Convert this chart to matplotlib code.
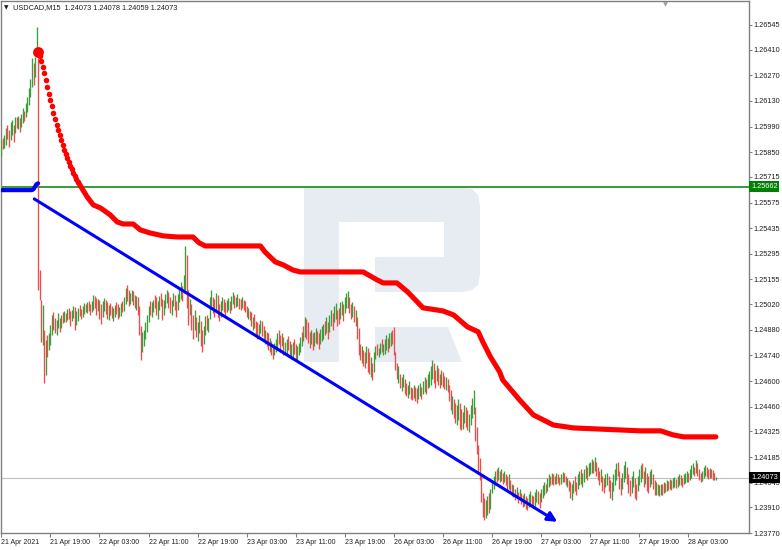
import numpy as np
import matplotlib
matplotlib.use('Agg')
import matplotlib.pyplot as plt
from matplotlib.patches import Polygon
from matplotlib import transforms

plt.rcParams['font.family'] = ['Liberation Sans', 'DejaVu Sans']

# ---- data (prices in points above 1.20000, i.e. 5662 -> 1.25662) ----
symbol_header = "USDCAD,M15  1.24073 1.24078 1.24059 1.24073"

bar_high = [
    5915, 5925, 5945, 5985, 6000, 5970, 6015, 6025, 6000, 6045,
    6040, 6050, 6035, 6060, 6090, 6075, 6120, 6150, 6200, 6250,
    6365, 6340, 6370, 6535, 6365, 5207, 5043, 5015, 4879, 4824,
    4851, 4862, 4906, 4961, 4977, 4944, 4933, 4972, 4944, 4961,
    4975, 4985, 4970, 4995, 5000, 4985, 4990, 5010, 5005, 4985,
    5000, 5015, 4995, 5010, 5025, 5020, 5030, 5035, 5020, 5040,
    5070, 5065, 5055, 5050, 5045, 5020, 5040, 5055, 5045, 5030,
    5015, 5025, 5010, 5000, 5015, 5030, 5020, 5005, 5025, 5040,
    5060, 5110, 5125, 5095, 5080, 5100, 5090, 5070, 5065, 5060,
    5010, 4900, 4870, 4880, 4920, 4960, 5010, 5040, 5030, 5045,
    5070, 5060, 5040, 5065, 5080, 5050, 5045, 5075, 5095, 5085,
    5060, 5045, 5080, 5070, 5040, 5075, 5110, 5140, 5120, 5180,
    5340, 5290, 5100, 5050, 5020, 4960, 4990, 4950, 4920, 4960,
    4930, 4880, 4900, 4955, 4960, 4945, 5060, 5100, 5060, 5050,
    5080, 5070, 5020, 5040, 5060, 5050, 5030, 5045, 5055, 5040,
    5065, 5085, 5070, 5060, 5075, 5055, 5050, 5060, 5045, 5035,
    5010, 5000, 4985, 4975, 4950, 4965, 4930, 4920, 4910, 4935,
    4930, 4900, 4880, 4870, 4860, 4835, 4820, 4800, 4810, 4830,
    4860, 4880, 4850, 4865, 4840, 4815, 4830, 4845, 4820, 4800,
    4815, 4830, 4800, 4790, 4810, 4840, 4870, 4900, 4950, 4940,
    4920, 4870, 4880, 4860, 4870, 4890, 4875, 4860, 4885, 4900,
    4910, 4930, 4950, 4920, 4960, 4990, 4970, 5010, 5025, 4990,
    5000, 5030, 5040, 5020, 5060, 5080, 5090, 5060, 5020, 5030,
    5010, 4990, 4950, 4890, 4800, 4790, 4770, 4760, 4790, 4780,
    4760, 4730, 4700, 4760, 4790, 4800, 4780, 4810, 4830, 4800,
    4830, 4850, 4835, 4860, 4870, 4880, 4895, 4760, 4700, 4680,
    4640, 4620, 4640, 4610, 4590, 4580, 4600, 4570, 4560, 4580,
    4570, 4560, 4580, 4590, 4570, 4600, 4620, 4610, 4640, 4655,
    4680, 4715, 4700, 4660, 4690, 4670, 4640, 4660, 4650, 4630,
    4620, 4610, 4580, 4550, 4520, 4500, 4480, 4470, 4500, 4480,
    4450, 4430, 4470, 4460, 4440, 4420, 4470, 4510, 4550, 4460,
    4350, 4250, 4180, 4080, 3990, 3960, 3950, 3970, 3990, 4010,
    4060, 4080, 4110, 4120, 4130, 4110, 4120, 4100, 4110, 4090,
    4080, 4090, 4060, 4040, 4030, 4010, 4020, 3995, 4010, 3990,
    3980, 3990, 3970, 3960, 3985, 4000, 3980, 3970, 3995, 4010,
    4000, 3990, 4010, 4030, 4050, 4040, 4070, 4090, 4080, 4100,
    4090, 4080, 4100, 4095, 4075, 4090, 4105, 4100, 4080, 4070,
    4060, 4050, 4040, 4060, 4080, 4050, 4090, 4110, 4120, 4100,
    4120, 4140, 4130, 4150, 4160, 4175, 4165, 4185, 4160, 4130,
    4110, 4120, 4080, 4070, 4090, 4100, 4080, 4060, 4050, 4090,
    4120, 4150, 4160, 4110, 4070, 4100, 4140, 4165, 4130, 4090,
    4060, 4080, 4110, 4070, 4040, 4080, 4120, 4140, 4150, 4110,
    4130, 4100, 4080, 4110, 4120, 4090, 4060, 4050, 4040, 4030,
    4040, 4035, 4050, 4045, 4060, 4055, 4065, 4060, 4070, 4075,
    4065, 4080, 4090, 4085, 4070, 4090, 4100, 4110, 4100, 4120,
    4140, 4150, 4130, 4170, 4150, 4120, 4100, 4110, 4130, 4140,
    4130, 4120, 4125, 4120, 4115, 4100, 4078,
]
bar_low = [
    5830, 5865, 5875, 5890, 5920, 5880, 5915, 5945, 5905, 5955,
    5985, 5975, 5960, 5990, 6010, 6020, 6040, 6070, 6110, 6150,
    6205, 6215, 6260, 6390, 5097, 5043, 4815, 4797, 4590, 4633,
    4731, 4770, 4797, 4851, 4879, 4862, 4851, 4890, 4868, 4890,
    4915, 4925, 4920, 4935, 4940, 4900, 4930, 4945, 4880, 4905,
    4930, 4955, 4940, 4950, 4965, 4975, 4970, 4985, 4960, 4975,
    4990, 5000, 4960, 4980, 4940, 4910, 4950, 4980, 4965, 4940,
    4935, 4960, 4945, 4930, 4950, 4965, 4940, 4950, 4955, 4975,
    4985, 5020, 5040, 5010, 5020, 5035, 5015, 5000, 4990, 4960,
    4850, 4715, 4760, 4790, 4830, 4870, 4920, 4960, 4950, 4975,
    5000, 4960, 4940, 4990, 5010, 4935, 4960, 5000, 5025, 5000,
    4970, 4960, 5010, 4990, 4950, 4990, 5030, 5050, 5040, 5080,
    5100, 5000, 4905, 4960, 4880, 4830, 4880, 4840, 4820, 4860,
    4790, 4760, 4800, 4850, 4880, 4870, 4940, 5010, 4970, 4950,
    4980, 4950, 4930, 4950, 4990, 4975, 4960, 4975, 4990, 4970,
    4990, 5020, 5000, 5005, 5010, 4995, 4990, 5000, 4990, 4975,
    4950, 4940, 4935, 4900, 4880, 4890, 4850, 4830, 4840, 4860,
    4845, 4820, 4800, 4790, 4770, 4760, 4740, 4720, 4740, 4760,
    4770, 4800, 4760, 4790, 4745, 4740, 4750, 4770, 4730, 4720,
    4730, 4750, 4710, 4705, 4740, 4760, 4790, 4820, 4840, 4830,
    4810, 4780, 4800, 4770, 4790, 4810, 4800, 4775, 4800, 4820,
    4830, 4850, 4860, 4830, 4870, 4900, 4880, 4920, 4940, 4900,
    4910, 4940, 4960, 4930, 4970, 5000, 5000, 4970, 4940, 4950,
    4920, 4900, 4830, 4740, 4715, 4700, 4680, 4670, 4700, 4650,
    4640, 4620, 4605, 4650, 4720, 4740, 4730, 4750, 4760, 4740,
    4750, 4770, 4760, 4780, 4790, 4800, 4740, 4660, 4610, 4590,
    4560, 4545, 4570, 4530, 4520, 4510, 4530, 4500, 4495, 4510,
    4490, 4480, 4500, 4520, 4500, 4530, 4540, 4530, 4560, 4570,
    4580, 4610, 4590, 4560, 4600, 4580, 4560, 4580, 4570, 4555,
    4550, 4540, 4490, 4440, 4420, 4400, 4370, 4360, 4390, 4340,
    4330, 4340, 4370, 4350, 4330, 4320, 4360, 4400, 4420, 4270,
    4200, 4100, 4060, 3940, 3860, 3840, 3850, 3870, 3880, 3900,
    3990, 4010, 4030, 4050, 4060, 4050, 4055, 4040, 4050, 4030,
    4000, 4010, 3990, 3970, 3965, 3950, 3960, 3935, 3950, 3930,
    3910, 3920, 3900, 3895, 3910, 3930, 3920, 3905, 3920, 3940,
    3930, 3905, 3940, 3960, 3980, 3990, 4000, 4020, 4030, 4040,
    4030, 4035, 4040, 4045, 4030, 4040, 4050, 4050, 4030, 4020,
    4000, 3960, 3950, 3990, 4000, 3980, 4010, 4030, 4040, 4020,
    4050, 4070, 4060, 4080, 4090, 4100, 4100, 4110, 4080, 4060,
    4030, 4050, 4000, 3990, 4020, 4030, 4000, 3960, 3950, 4000,
    4030, 4060, 4080, 4010, 3980, 4010, 4050, 4070, 4040, 3990,
    3970, 3990, 4020, 3960, 3950, 4000, 4030, 4050, 4070, 4020,
    4040, 4000, 3990, 4020, 4040, 4010, 3980, 3980, 3975, 3970,
    3980, 3975, 3990, 3995, 4000, 4005, 4010, 4005, 4015, 4020,
    4015, 4020, 4030, 4030, 4020, 4035, 4045, 4050, 4050, 4060,
    4070, 4090, 4080, 4100, 4080, 4060, 4050, 4055, 4070, 4080,
    4075, 4065, 4070, 4070, 4060, 4060, 4059,
]
# g = up bar, r = down bar
bar_dir = (
    "grggrrggrg" "rgrggrgggg" "grggrrrgrg" "rgggrrggrg" "rgrgrrggrg"
    "grrggrgrrg" "grrgrrggrr" "grrggrrggr" "ggrrggrrgr" "rrgggggrgg"
    "rrggrrgggr" "rggrrgggrg" "grrgrrgrgg" "rrggrgggrr" "grrggrrggr"
    "ggrggrrgrr" "rgrrgrrrgg" "rrgrrgrrgg" "grrgrggrrg" "grrggggrgr"
    "rrgrggrrgg" "grgrggrggr" "rggrgggrrg" "rgrrrgrrgr" "rgrggrggrg"
    "ggrggrrrrg" "rggrrggrrg" "rrggrggrgg" "ggrrgrrgrr" "grrrgrrggr"
    "rggrrggggr" "rrrrrrggrg" "gggrgrgrgr" "rgrrgrgrgr" "rgrrggrrgg"
    "rrgggrggrg" "rrgrrggrrg" "rrggrrggrg" "ggrgggrgrr" "rgrrggrrgg"
    "ggrrrgggrr" "rggrrgggrr" "grrggrrgrg" "grgrgrgrgg" "rggrrgggrg"
    "ggrgrrrggg" "rrgrrrg"
)

# red trailing indicator: separate dots first, then solid line
sar_dot_idx = list(range(24, 51))
sar_dot_val = [6398, 6376, 6349, 6316, 6283, 6245, 6207, 6168, 6136, 6103,
               6065, 6032, 5999, 5972, 5945, 5917, 5890, 5863, 5841, 5819,
               5797, 5775, 5759, 5737, 5721, 5704, 5688]
sar_line_idx = [50, 56, 60, 64.6, 71, 75.6, 79.6, 86, 90.6, 97,
                105.6, 114.8, 125, 129, 133, 169, 172, 178.7, 184, 190,
                195, 236, 245, 249, 258, 265, 275, 288, 295, 304,
                311, 314, 319, 325, 327, 338, 347, 360, 373, 417,
                430, 438, 445, 466]
sar_line_val = [5688, 5606, 5562, 5546, 5508, 5469, 5458, 5458, 5426, 5409,
                5393, 5387, 5387, 5355, 5338, 5338, 5305, 5251, 5234, 5207,
                5196, 5196, 5153, 5136, 5136, 5087, 5000, 4983, 4961, 4896,
                4869, 4814, 4732, 4650, 4606, 4497, 4415, 4360, 4344, 4328,
                4328, 4306, 4295, 4295]

# blue average on the left
ma_idx = [0, 20, 21, 22, 23, 24]
ma_val = [5643, 5643, 5648, 5662, 5676, 5680]

# trend arrow (start / end bar, price)
trend_idx = [21.5, 362.6]
trend_val = [5595, 3831]

level_green = 1.25662
last_price = 1.24073

price_ticks = [1.26545, 1.26410, 1.26270, 1.26130, 1.25990, 1.25850, 1.25715,
               1.25575, 1.25435, 1.25295, 1.25155, 1.25020, 1.24880, 1.24740,
               1.24600, 1.24460, 1.24325, 1.24185, 1.24045, 1.23910, 1.23770]
time_ticks = [0, 32, 64, 96, 128, 160, 192, 224, 256, 288, 320, 352, 384, 416, 448]
time_labels = ["21 Apr 2021", "21 Apr 19:00", "22 Apr 03:00", "22 Apr 11:00",
               "22 Apr 19:00", "23 Apr 03:00", "23 Apr 11:00", "23 Apr 19:00",
               "26 Apr 03:00", "26 Apr 11:00", "26 Apr 19:00", "27 Apr 03:00",
               "27 Apr 11:00", "27 Apr 19:00", "28 Apr 03:00"]

assert len(bar_high) == len(bar_low) == len(bar_dir)


def pts(v):
    return 1.2 + np.asarray(v, dtype=float) * 1e-5


W, H = 782, 550
fig = plt.figure(figsize=(W / 100, H / 100), dpi=100)
ax = fig.add_axes([1 / W, 17 / H, 748 / W, 532 / H])
ax.set_xlim(-0.2, -0.2 + 748 / 1.5334)
ax.set_ylim(1.23770, 1.266761)


# watermark logo (axes fraction from pixel positions)
def px(x, y):
    return ((x - 1) / 748, (533 - y) / 532)


wm = '#e7ebf2'
stem = [(304, 187), (339, 187), (339, 362), (304, 362)]
bowl = [(339, 187), (462, 187), (472, 189), (478, 195), (480, 205), (480, 275),
        (478, 285), (472, 290), (462, 292), (375, 292), (375, 257), (444, 257),
        (444, 222), (339, 222)]
leg = [(375, 327), (448, 327), (462, 362), (375, 362)]
for shape in (stem, bowl, leg):
    ax.add_patch(Polygon([px(*p) for p in shape], closed=True, fc=wm, ec='none',
                         transform=ax.transAxes, zorder=0))

ax.axhline(level_green, color='#008000', lw=1.1, zorder=2)
ax.axhline(last_price, color='#c0c0c0', lw=0.8, zorder=1)

idx = np.arange(len(bar_high))
cols = ['#3a9f3a' if d == 'g' else '#f24a4a' for d in bar_dir]
ax.vlines(idx, pts(bar_low), pts(bar_high), colors=cols, lw=0.95, zorder=3)

ax.plot(ma_idx, pts(ma_val), color='#0000ff', lw=3.0, solid_capstyle='round', zorder=4)

ax.annotate('', xy=(trend_idx[1], pts(trend_val[1])), xytext=(trend_idx[0], pts(trend_val[0])),
            arrowprops=dict(arrowstyle='-|>', color='#0000ff', lw=2.2, mutation_scale=14,
                            shrinkA=0, shrinkB=0), zorder=5)

ax.plot(sar_line_idx, pts(sar_line_val), color='#ff0000', lw=3.7,
        solid_capstyle='round', solid_joinstyle='round', zorder=6)
ax.plot(sar_dot_idx[1:], pts(sar_dot_val[1:]), 'o', color='#ff0000', ms=4.0, mew=0, zorder=6)
ax.plot(sar_dot_idx[:1], pts(sar_dot_val[:1]), 'o', color='#ff0000', ms=7.8, mew=0, zorder=7)

# axes styling
for s in ax.spines.values():
    s.set_color('#808080')
    s.set_linewidth(1.0)
ax.yaxis.tick_right()
ax.set_yticks(price_ticks)
ax.set_yticklabels(['%.5f' % p for p in price_ticks])
ax.set_xticks(time_ticks)
ax.set_xticklabels(time_labels, ha='left')
ax.tick_params(axis='y', length=2, width=0.8, color='#808080', pad=1.5,
               labelsize=5.3, labelcolor='#202020')
ax.tick_params(axis='x', length=3, width=0.8, color='#808080', pad=1,
               labelsize=5.0, labelcolor='#202020')

# price tags on the right scale
tag_tr = transforms.blended_transform_factory(ax.transAxes, ax.transData)
for val, bg in ((level_green, '#008000'), (last_price, '#000000')):
    ax.text(1.0, val, '%.5f' % val, transform=transforms.offset_copy(tag_tr, fig=fig, x=2, y=0, units='dots'),
            ha='left', va='center', fontsize=5.3, color='white', clip_on=False, zorder=10,
            bbox=dict(boxstyle='square,pad=0.25', fc=bg, ec='none'))

# header and chart-shift marker
fig.text(4 / W, 1 - 7.5 / H, '\u25bc', fontsize=4.2, family='DejaVu Sans', va='center', ha='left', color='#202020')
fig.text(13 / W, 1 - 7.5 / H, symbol_header, fontsize=5.3, va='center', ha='left', color='#202020')
ax.plot([(665 - 1) / 748], [1 - 2.5 / 532], marker='v', ms=3.5, color='#a0a0a0', mew=0,
        transform=ax.transAxes, clip_on=False, zorder=10)

fig.savefig('out.png', dpi=100)
